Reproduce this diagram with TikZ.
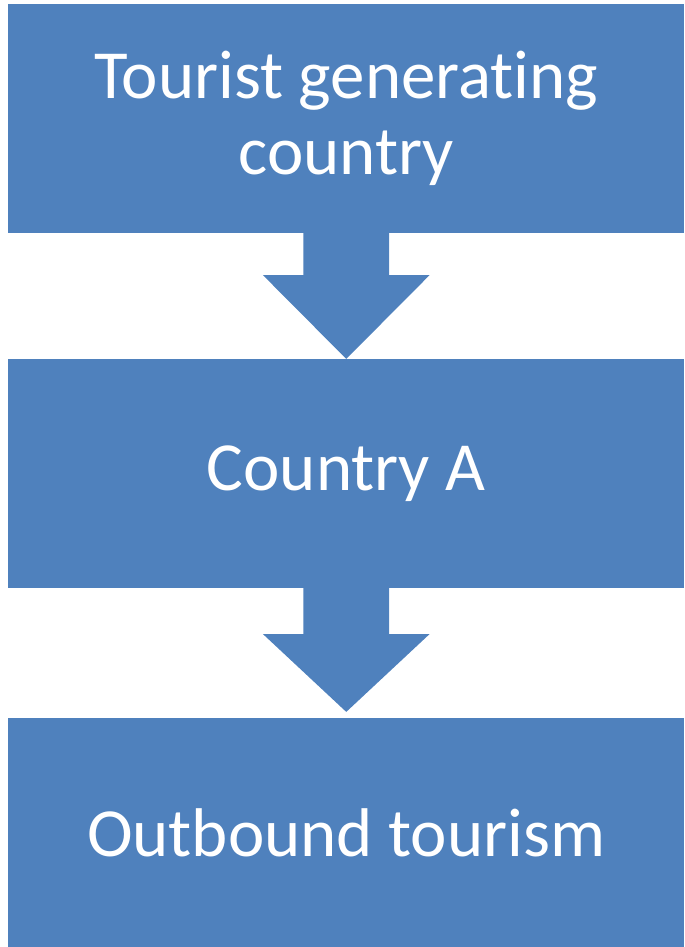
\documentclass[tikz,border=0pt]{standalone}
\usepackage{fontspec}
\setmainfont{Carlito}[RawFeature=-liga]
\usetikzlibrary{positioning, calc}
\definecolor{boxblue}{HTML}{4F81BD}
\tikzstyle{bluebox} = [rectangle, minimum width=677pt, minimum height=229pt, inner sep=0pt, text centered, align=center, fill=boxblue, text=white, font=\fontsize{69}{76}\selectfont]
\tikzstyle{blockarrow} = [fill=boxblue]

\begin{document}
\begin{tikzpicture}[x=1pt, y=1pt]

\node (generating) [bluebox] {Tourist generating\\country};
\node (countryA) [bluebox, below=126pt of generating] {Country A};
\node (outbound) [bluebox, below=130pt of countryA] {Outbound tourism};

\useasboundingbox ($(generating.north west)+(-8,4)$) rectangle (outbound.south east);

% block arrows between the boxes
\fill [blockarrow] ($(generating.south)+(-43,0)$) -- ($(generating.south)+(43,0)$) -- ($(countryA.north)+(43,84)$) -- ($(countryA.north)+(83.5,84)$) -- (countryA.north) -- ($(countryA.north)+(-83.5,84)$) -- ($(countryA.north)+(-43,84)$) -- cycle;
\fill [blockarrow] ($(countryA.south)+(-43,0)$) -- ($(countryA.south)+(43,0)$) -- ($(outbound.north)+(43,84)$) -- ($(outbound.north)+(83.5,84)$) -- ($(outbound.north)+(0,6)$) -- ($(outbound.north)+(-83.5,84)$) -- ($(outbound.north)+(-43,84)$) -- cycle;

\end{tikzpicture}
\end{document}
